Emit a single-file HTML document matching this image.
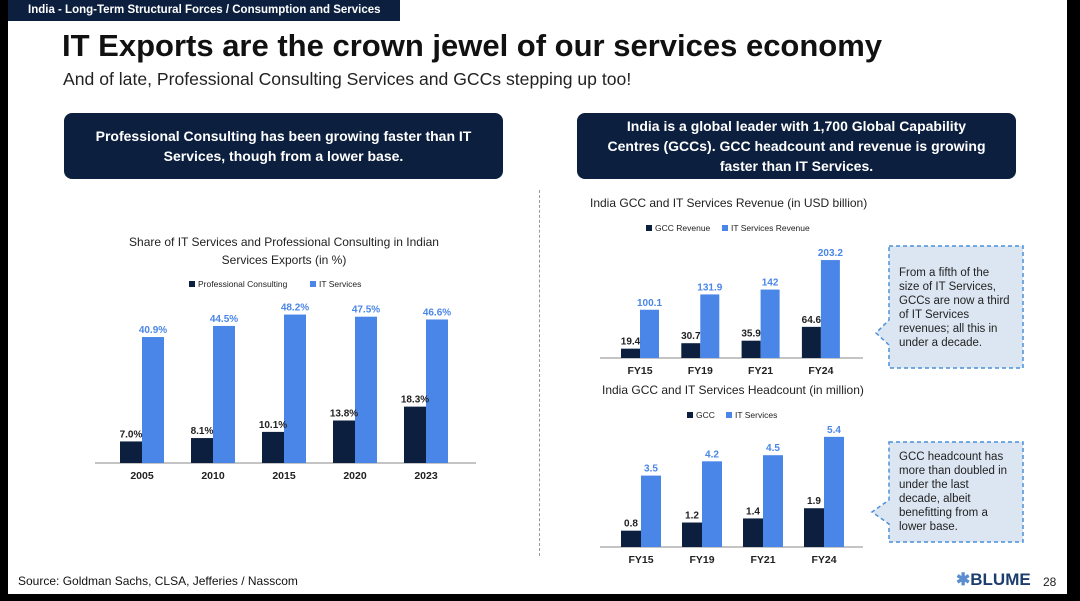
<!DOCTYPE html>
<html><head><meta charset="utf-8"><style>
*{margin:0;padding:0;box-sizing:border-box}
body{width:1080px;height:601px;background:#000;position:relative;overflow:hidden;font-family:"Liberation Sans",sans-serif}
#page{position:absolute;left:8px;top:0;width:1059px;height:594px;background:#fff}
.abs{position:absolute}
.dark{background:#0c1f3f;color:#fff;border-radius:8px;font-weight:bold;font-size:14px;text-align:center;line-height:20px;display:flex;align-items:center;justify-content:center}
</style></head><body>
<div id="page">
<div class="abs" style="left:0;top:0;width:392px;height:21px;background:#0c1f3f;color:#fff;font-size:11.5px;font-weight:bold;line-height:21px;padding-left:20px">India - Long-Term Structural Forces / Consumption and Services</div>
<div class="abs" style="left:54px;top:28px;font-size:31px;font-weight:bold;color:#111">IT Exports are the crown jewel of our services economy</div>
<div class="abs" style="left:55px;top:69px;font-size:17.6px;color:#222">And of late, Professional Consulting Services and GCCs stepping up too!</div>
<div class="abs dark" style="left:56px;top:113px;width:439px;height:66px">Professional Consulting has been growing faster than IT<br>Services, though from a lower base.</div>
<div class="abs dark" style="left:569px;top:113px;width:439px;height:66px">India is a global leader with 1,700 Global Capability<br>Centres (GCCs). GCC headcount and revenue is growing<br>faster than IT Services.</div>
<div class="abs" style="left:531px;top:190px;height:366px;border-left:1.5px dashed #999"></div>
<div class="abs" style="left:10px;top:574px;font-size:12px;color:#111">Source: Goldman Sachs, CLSA, Jefferies / Nasscom</div>
<div class="abs" style="left:948px;top:570px;font-size:17px;font-weight:bold;color:#1c3d6e"><span style="color:#5a8ed0">✱</span>BLUME</div>
<div class="abs" style="left:1035px;top:575px;font-size:12px;color:#222">28</div>
</div>
<svg class="abs" style="left:0;top:0" width="1080" height="601" font-family="Liberation Sans, sans-serif">
<g id="g1"></g><g id="g2"></g><g id="g3"></g>
<g>
<path d="M889,246 H1023 V368 H889 V345 L876,333 L889,320 Z" fill="#dce6f2" stroke="#4a90d9" stroke-width="1.5" stroke-dasharray="4,3"/>
<text font-size="11.5" fill="#222"><tspan x="899" y="276">From a fifth of the</tspan><tspan x="899" y="290">size of IT Services,</tspan><tspan x="899" y="304">GCCs are now a third</tspan><tspan x="899" y="318">of IT Services</tspan><tspan x="899" y="332">revenues; all this in</tspan><tspan x="899" y="346">under a decade.</tspan></text></g>
<g>
<path d="M889,442 H1023 V542 H889 V524 L872,512 L889,500 Z" fill="#dce6f2" stroke="#4a90d9" stroke-width="1.5" stroke-dasharray="4,3"/>
<text font-size="11.5" fill="#222"><tspan x="899" y="460">GCC headcount has</tspan><tspan x="899" y="474">more than doubled in</tspan><tspan x="899" y="488">under the last</tspan><tspan x="899" y="502">decade, albeit</tspan><tspan x="899" y="516">benefitting from a</tspan><tspan x="899" y="530">lower base.</tspan></text></g>
</svg>
<script>
const c1Cats=["2005","2010","2015","2020","2023"];
const c1Dark=[7.0,8.1,10.1,13.8,18.3];
const c1Blue=[40.9,44.5,48.2,47.5,46.6];
const c2Cats=["FY15","FY19","FY21","FY24"];
const c2Dark=[19.4,30.7,35.9,64.6];
const c2Blue=[100.1,131.9,142,203.2];
const c3Cats=["FY15","FY19","FY21","FY24"];
const c3Dark=[0.8,1.2,1.4,1.9];
const c3Blue=[3.5,4.2,4.5,5.4];
const NS="http://www.w3.org/2000/svg";
const DARK="#0c1f3f",BLUE="#4a86e8";
function mk(p,t,a,txt){const e=document.createElementNS(NS,t);for(const k in a)e.setAttribute(k,a[k]);if(txt!=null)e.textContent=txt;p.appendChild(e);return e;}
function chart(id,o){
 const g=document.getElementById(id);
 const x=i=>o.x0+i*o.step, y=v=>o.base-v*o.k;
 const ax=mk(g,'line',{x1:o.ax1,x2:o.ax2,y1:o.base,y2:o.base,stroke:'#888','stroke-width':1});
 
 
 o.cats.forEach((c,i)=>{
  const cx=x(i);
  const r1=mk(g,'rect',{x:cx-o.bw,y:y(o.dark[i]),width:o.bw,height:o.dark[i]*o.k,fill:DARK});
  
  
  const r2=mk(g,'rect',{x:cx,y:y(o.blue[i]),width:o.bw,height:o.blue[i]*o.k,fill:BLUE});
  
  
  const t1=mk(g,'text',{x:cx-o.bw/2,y:y(o.dark[i])-4,'font-size':10,'font-weight':'bold','text-anchor':'middle',fill:'#222'},o.fmt(o.dark[i]));
  
  
  const t2=mk(g,'text',{x:cx+o.bw/2,y:y(o.blue[i])-4,'font-size':10,'font-weight':'bold','text-anchor':'middle',fill:BLUE},o.fmt(o.blue[i]));
  
  
  const t3=mk(g,'text',{x:cx,y:o.base+16,'font-size':10.5,'font-weight':'bold','text-anchor':'middle',fill:'#222'},c);
  
  
 });
 o.legend.forEach((l,j)=>{
  const s=mk(g,'rect',{x:l[0],y:o.ly-6,width:6,height:6,fill:j?BLUE:DARK});
  
  
  const t=mk(g,'text',{x:l[0]+9,y:o.ly,'font-size':8.5,fill:'#222'},l[1]);
  
  
 });
 o.titles.forEach(tt=>{
  const t=mk(g,'text',{x:tt[0],y:tt[1],'font-size':12,fill:'#222','text-anchor':tt[3]||'start'},tt[2]);
  
  
 });
}
chart('g1',{cats:c1Cats,dark:c1Dark,blue:c1Blue,x0:142,step:71,bw:22,base:463,k:3.08,ax1:95,ax2:476,
 fmt:v=>v.toFixed(1)+'%',ly:287,legend:[[189,'Professional Consulting'],[310,'IT Services']],
 titles:[[284,246,'Share of IT Services and Professional Consulting in Indian','middle'],[284,264,'Services Exports (in %)','middle']]});
chart('g2',{cats:c2Cats,dark:c2Dark,blue:c2Blue,x0:640,step:60.3,bw:19,base:358,k:0.482,ax1:600,ax2:863,
 fmt:v=>String(v),ly:231,legend:[[646,'GCC Revenue'],[722,'IT Services Revenue']],
 titles:[[590,207,'India GCC and IT Services Revenue (in USD billion)']]});
chart('g3',{cats:c3Cats,dark:c3Dark,blue:c3Blue,x0:641,step:61,bw:20,base:547,k:20.4,ax1:600,ax2:863,
 fmt:v=>v.toFixed(1),ly:418,legend:[[687,'GCC'],[726,'IT Services']],
 titles:[[602,394,'India GCC and IT Services Headcount (in million)']]});
</script>
</body></html>
